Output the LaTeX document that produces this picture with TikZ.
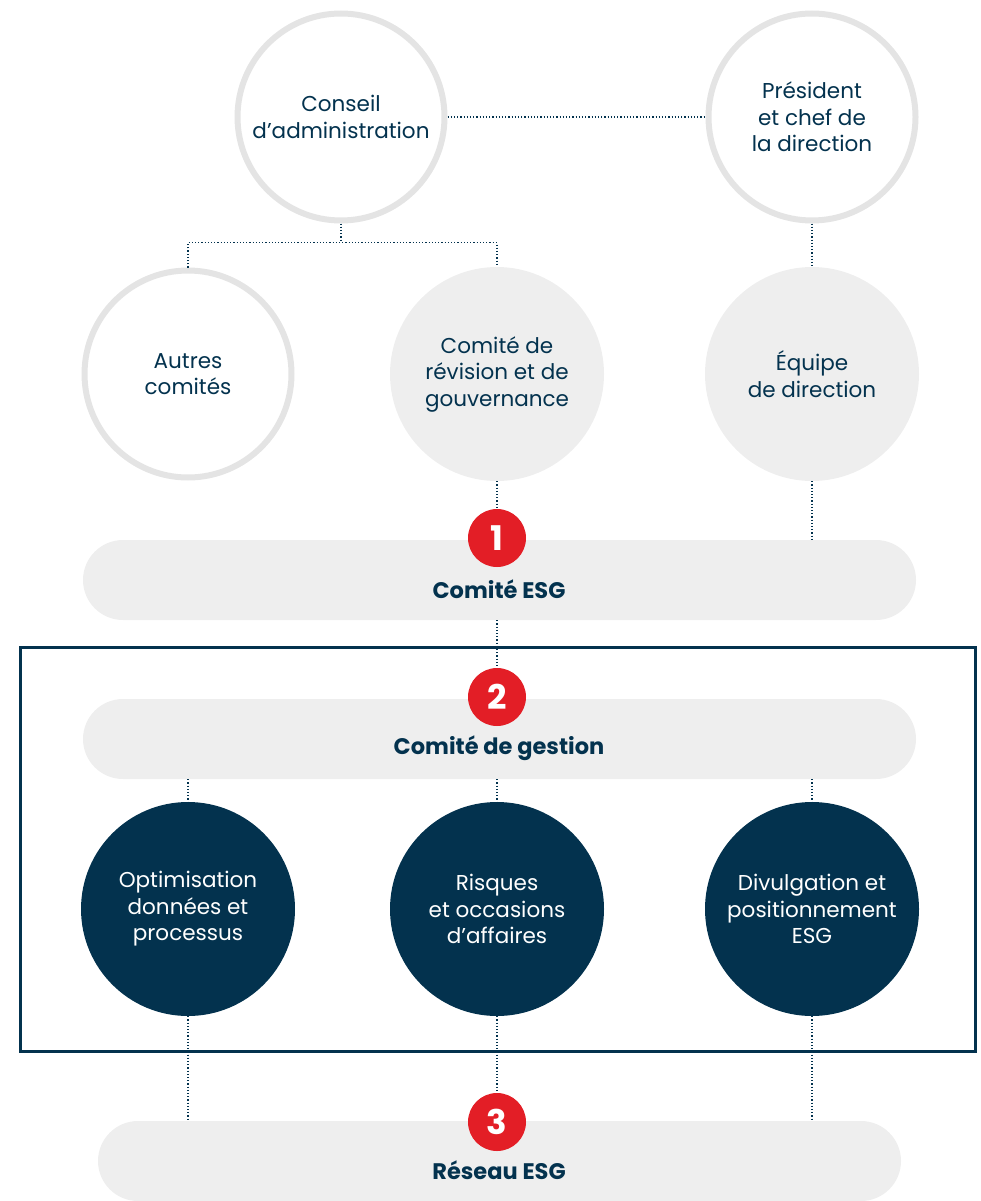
\documentclass[tikz,border=0pt]{standalone}
\usepackage{fontspec}
\setmainfont{Poppins}
\usetikzlibrary{calc}

\definecolor{marine}{HTML}{03324E}
\definecolor{grisfond}{HTML}{EEEEEE}
\definecolor{grisanneau}{HTML}{E4E4E4}
\definecolor{rougeesg}{HTML}{E31E26}

\tikzset{
  cercleVide/.style={circle, draw=grisanneau, line width=6pt, fill=white, minimum size=207pt, inner sep=0pt, align=center, text=marine, font=\fontsize{21.5}{26.5}\selectfont},
  cercleGris/.style={circle, fill=grisfond, minimum size=214pt, inner sep=0pt, align=center, text=marine, font=\fontsize{21.5}{26.5}\selectfont},
  cercleFonce/.style={circle, fill=marine, minimum size=214pt, inner sep=0pt, align=center, text=white, font=\fontsize{21.5}{26.5}\selectfont},
  pilule/.style={rectangle, rounded corners=40pt, fill=grisfond, minimum height=80pt, inner sep=0pt},
  titrePilule/.style={text=marine, font=\fontsize{22.5}{26}\selectfont\bfseries},
  pastille/.style={circle, fill=rougeesg, minimum size=58pt, inner sep=0pt, text=white, font=\fontsize{34}{34}\selectfont\bfseries},
  pointille/.style={draw=marine, line width=1.2pt, dotted}
}

\begin{document}
\begin{tikzpicture}[x=1pt, y=-1pt]
            \useasboundingbox (0,0) rectangle (981,1201);

            % cadre du comite de gestion
            \draw[marine, line width=3pt] (20,647) rectangle (975,1051);

            % pilules
            \node[pilule, minimum width=833pt] (pilESG) at (499.5,580) {};
            \node[pilule, minimum width=833pt] (pilGestion) at (499.5,739) {};
            \node[pilule, minimum width=803pt] (pilReseau) at (499.5,1161) {};

            % cercles du haut
            \node[cercleVide] (conseil) at (341,117) {Conseil\\d’administration};
            \node[cercleVide] (president) at (812,117) {Président\\et chef de\\la direction};
            \node[cercleVide] (autres) at (188,374) {Autres\\comités};
            \node[cercleGris] (revision) at (497,374) {Comité de\\révision et de\\gouvernance};
            \node[cercleGris] (equipe) at (812,374) {Équipe\\de direction};

            % cercles du comite de gestion
            \node[cercleFonce] (optim) at (188,909) {Optimisation\\données et\\processus};
            \node[cercleFonce] (risques) at (497,909) {Risques\\et occasions\\d’affaires};
            \node[cercleFonce] (divulg) at (812,909) {Divulgation et\\positionnement\\ESG};

            % pastilles
            \node[pastille] (num1) at (497,538) {1};
            \node[pastille] (num2) at (497,697) {2};
            \node[pastille] (num3) at (497,1122) {3};

            % titres
            \node[titrePilule] (tESG) at (499,589) {Comité ESG};
            \node[titrePilule] (tGestion) at (499,748) {Comité de gestion};
            \node[titrePilule] (tReseau) at (499,1170) {Réseau ESG};

            % liens
            \draw[pointille] (conseil.east) -- (president.west);
            \draw[pointille] (conseil.south) -- ++(0,19) coordinate (embr);
            \draw[pointille] (autres.north) |- (embr) -| (revision.north);
            \draw[pointille] (president.south) -- (equipe.north);
            \draw[pointille] (revision.south) -- (num1.north);
            \draw[pointille] (equipe.south) -- (equipe.south |- pilESG.north);
            \draw[pointille] (num1.south |- pilESG.south) -- (num2.north);
            \draw[pointille] (optim.north |- pilGestion.south) -- (optim.north);
            \draw[pointille] (risques.north |- pilGestion.south) -- (risques.north);
            \draw[pointille] (divulg.north |- pilGestion.south) -- (divulg.north);
            \draw[pointille] (optim.south) -- (optim.south |- pilReseau.north);
            \draw[pointille] (risques.south) -- (num3.north);
            \draw[pointille] (divulg.south) -- (divulg.south |- pilReseau.north);
        \end{tikzpicture}
\end{document}
